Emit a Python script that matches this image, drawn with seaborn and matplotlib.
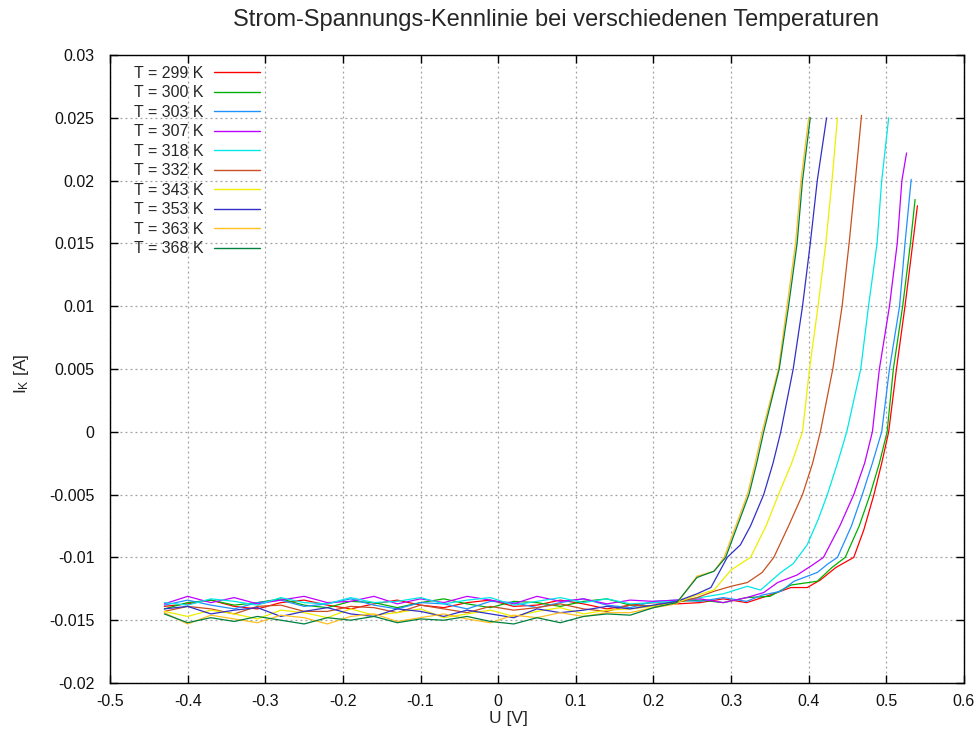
import numpy as np
import pandas as pd
import matplotlib
matplotlib.use("Agg")
import matplotlib.pyplot as plt
import seaborn as sns
from matplotlib.lines import Line2D
from matplotlib.ticker import FixedLocator, FuncFormatter

# ---- measured characteristics (U in V, I in mA) ----
temperatures = [299, 300, 303, 307, 318, 332, 343, 353, 363, 368]

# common voltage grid of the reverse / flat part
u_flat = [-0.43, -0.40, -0.37, -0.34, -0.31, -0.28, -0.25, -0.22, -0.19, -0.16,
          -0.13, -0.10, -0.07, -0.04, -0.01, 0.02, 0.05, 0.08, 0.11, 0.14,
          0.17, 0.20, 0.23]

i_flat_299 = [-13.9, -13.7, -13.4, -13.9, -14.1, -13.6, -13.4, -13.8, -14.1, -13.7, -13.4, -13.8,
              -14.0, -13.6, -13.4, -13.9, -13.8, -13.4, -13.7, -14.1, -13.8, -13.6, -13.7]
i_flat_300 = [-14.1, -13.6, -13.4, -13.8, -13.6, -13.3, -13.8, -14.0, -13.5, -13.6, -14.0, -13.6,
              -13.3, -13.7, -14.0, -13.5, -13.6, -13.9, -13.5, -13.3, -13.8, -13.9, -13.5]
i_flat_303 = [-13.8, -13.4, -13.8, -14.1, -13.6, -13.4, -13.9, -13.7, -13.3, -13.8, -14.1, -13.6,
              -13.7, -14.1, -13.5, -13.6, -14.0, -13.6, -13.3, -13.8, -14.0, -13.5, -13.4]
i_flat_307 = [-13.7, -13.1, -13.6, -13.2, -13.7, -13.4, -13.1, -13.6, -13.5, -13.1, -13.7, -13.3,
              -13.6, -13.1, -13.4, -13.7, -13.1, -13.5, -13.3, -13.7, -13.4, -13.5, -13.4]
i_flat_318 = [-13.6, -13.8, -13.3, -13.5, -13.8, -13.2, -13.6, -13.7, -13.2, -13.6, -13.5, -13.2,
              -13.7, -13.4, -13.2, -13.8, -13.5, -13.2, -13.6, -13.3, -13.7, -13.6, -13.5]
i_flat_332 = [-14.3, -13.9, -14.1, -14.5, -13.9, -13.8, -14.3, -14.3, -13.9, -14.0, -14.4, -13.8,
              -14.1, -14.4, -13.9, -14.2, -14.0, -13.7, -14.1, -14.3, -13.8, -13.9, -13.6]
i_flat_343 = [-14.3, -14.7, -14.2, -14.5, -14.9, -14.2, -14.4, -14.8, -14.1, -14.6, -14.4, -14.1,
              -14.8, -14.5, -14.2, -14.7, -14.3, -14.0, -14.5, -14.2, -14.1, -13.9, -13.6]
i_flat_353 = [-14.1, -13.9, -14.5, -14.2, -14.0, -14.7, -14.3, -14.0, -14.5, -14.7, -14.1, -14.3,
              -14.7, -14.2, -14.5, -14.8, -14.1, -14.4, -14.2, -13.9, -14.1, -13.8, -13.5]
i_flat_363 = [-14.4, -15.3, -14.6, -14.9, -15.2, -14.6, -14.8, -15.3, -14.7, -14.5, -15.1, -14.8,
              -14.5, -14.9, -15.2, -14.6, -14.8, -14.4, -14.7, -14.4, -14.4, -14.0, -13.7]
i_flat_368 = [-14.5, -15.2, -14.8, -15.1, -14.7, -15.0, -15.3, -14.8, -15.0, -14.7, -15.2, -14.9,
              -15.0, -14.7, -15.1, -15.3, -14.8, -15.2, -14.7, -14.5, -14.6, -14.0, -13.6]

# forward part (onset and steep rise), individual voltage points
u_rise_299 = [0.26, 0.29, 0.32, 0.35, 0.377, 0.398, 0.415, 0.435, 0.458, 0.471, 0.484, 0.494, 0.503, 0.513, 0.524, 0.534, 0.540]
i_rise_299 = [-13.6, -13.3, -13.6, -13.0, -12.4, -12.4, -11.8, -10.8, -10.0, -7.8, -5.0, -2.5, 0.0, 5.0, 10.0, 15.0, 18.0]
u_rise_300 = [0.26, 0.29, 0.32, 0.35, 0.377, 0.411, 0.430, 0.447, 0.465, 0.479, 0.491, 0.501, 0.509, 0.521, 0.531, 0.537]
i_rise_300 = [-13.4, -13.6, -13.2, -13.1, -12.2, -11.9, -10.8, -10.0, -7.5, -5.0, -2.5, 0.0, 5.0, 10.0, 15.0, 18.5]
u_rise_303 = [0.26, 0.29, 0.32, 0.34, 0.364, 0.381, 0.411, 0.425, 0.437, 0.455, 0.469, 0.482, 0.494, 0.504, 0.517, 0.524, 0.532]
i_rise_303 = [-13.5, -13.2, -13.5, -13.0, -12.7, -11.9, -11.2, -10.5, -10.0, -7.5, -5.0, -2.5, 0.0, 5.0, 10.0, 15.0, 20.1]
u_rise_307 = [0.26, 0.29, 0.32, 0.342, 0.360, 0.385, 0.405, 0.419, 0.440, 0.458, 0.472, 0.482, 0.491, 0.504, 0.514, 0.520, 0.526]
i_rise_307 = [-13.3, -13.6, -13.2, -12.8, -12.0, -11.4, -10.6, -10.0, -7.5, -5.0, -2.5, 0.0, 5.0, 10.0, 15.0, 20.0, 22.2]
u_rise_318 = [0.26, 0.29, 0.321, 0.338, 0.364, 0.380, 0.398, 0.412, 0.424, 0.437, 0.449, 0.467, 0.477, 0.488, 0.494, 0.503]
i_rise_318 = [-13.2, -12.9, -12.3, -12.6, -11.2, -10.5, -9.0, -7.0, -5.0, -2.5, 0.0, 5.0, 10.0, 15.0, 20.0, 25.0]
u_rise_332 = [0.256, 0.278, 0.300, 0.321, 0.340, 0.355, 0.374, 0.392, 0.405, 0.415, 0.431, 0.443, 0.452, 0.460, 0.468]
i_rise_332 = [-13.2, -12.7, -12.3, -12.0, -11.2, -10.0, -7.5, -5.0, -2.5, 0.0, 5.0, 10.0, 15.0, 20.0, 25.2]
u_rise_343 = [0.256, 0.278, 0.300, 0.325, 0.345, 0.361, 0.378, 0.392, 0.401, 0.412, 0.422, 0.430, 0.437]
i_rise_343 = [-13.0, -12.6, -11.0, -10.0, -7.5, -5.0, -2.5, 0.0, 5.0, 10.0, 15.0, 20.0, 25.0]
u_rise_353 = [0.256, 0.274, 0.295, 0.312, 0.325, 0.342, 0.354, 0.364, 0.380, 0.392, 0.402, 0.411, 0.423]
i_rise_353 = [-12.9, -12.4, -10.0, -9.0, -7.5, -5.0, -2.5, 0.0, 5.0, 10.0, 15.0, 20.0, 25.0]
u_rise_363 = [0.256, 0.278, 0.291, 0.306, 0.321, 0.331, 0.340, 0.361, 0.372, 0.383, 0.390, 0.400]
i_rise_363 = [-11.5, -11.1, -10.0, -7.5, -5.0, -2.5, 0.0, 5.0, 10.0, 15.0, 20.0, 25.0]
u_rise_368 = [0.256, 0.278, 0.293, 0.308, 0.323, 0.333, 0.342, 0.362, 0.374, 0.385, 0.392, 0.402]
i_rise_368 = [-11.6, -11.1, -10.0, -7.5, -5.0, -2.5, 0.0, 5.0, 10.0, 15.0, 20.0, 25.0]

x_ticks = [-0.5, -0.4, -0.3, -0.2, -0.1, 0.0, 0.1, 0.2, 0.3, 0.4, 0.5, 0.6]
y_ticks = [-0.02, -0.015, -0.01, -0.005, 0.0, 0.005, 0.01, 0.015, 0.02, 0.025, 0.03]

colors = ["#ff0000", "#00b000", "#2090ff", "#c000ff", "#00e8e8",
          "#c85020", "#eeee00", "#3030c8", "#ffc020", "#008040"]

flat = {299: i_flat_299, 300: i_flat_300, 303: i_flat_303, 307: i_flat_307, 318: i_flat_318,
        332: i_flat_332, 343: i_flat_343, 353: i_flat_353, 363: i_flat_363, 368: i_flat_368}
rise = {299: (u_rise_299, i_rise_299), 300: (u_rise_300, i_rise_300), 303: (u_rise_303, i_rise_303),
        307: (u_rise_307, i_rise_307), 318: (u_rise_318, i_rise_318), 332: (u_rise_332, i_rise_332),
        343: (u_rise_343, i_rise_343), 353: (u_rise_353, i_rise_353), 363: (u_rise_363, i_rise_363),
        368: (u_rise_368, i_rise_368)}

rows = []
for t in temperatures:
    label = f"T = {t} K"
    u_all = u_flat + rise[t][0]
    i_all = flat[t] + rise[t][1]
    for u, i in zip(u_all, i_all):
        rows.append({"U": u, "I": i * 1e-3, "T": label})
df = pd.DataFrame(rows)

labels = [f"T = {t} K" for t in temperatures]
palette = dict(zip(labels, colors))

sns.set_theme(style="white")
plt.rcParams["font.family"] = ["Liberation Sans", "DejaVu Sans"]
plt.rcParams["mathtext.fontset"] = "custom"
plt.rcParams["mathtext.rm"] = "Liberation Sans"
plt.rcParams["mathtext.it"] = "Liberation Sans:italic"

fig = plt.figure(figsize=(9.78, 7.39), dpi=100)
ax = fig.add_axes([110 / 978, 1 - 683 / 739, (964 - 110) / 978, (683 - 55) / 739])

# one polyline per temperature, drawn in measurement order
for lab in labels:
    sub = df[df["T"] == lab]
    sns.lineplot(x=sub["U"].to_numpy(), y=sub["I"].to_numpy(), sort=False,
                 estimator=None, color=palette[lab], lw=0.9, ax=ax)

ax.set_xlim(-0.5, 0.6)
ax.set_ylim(-0.02, 0.03)
ax.xaxis.set_major_locator(FixedLocator(x_ticks))
ax.yaxis.set_major_locator(FixedLocator(y_ticks))
fmt = FuncFormatter(lambda v, p: "0" if abs(v) < 1e-12 else f"{v:g}")
ax.xaxis.set_major_formatter(fmt)
ax.yaxis.set_major_formatter(fmt)

ax.grid(True, color="#a0a0a0", linestyle=(0, (1.5, 2.5)), linewidth=0.9)
for s in ax.spines.values():
    s.set_visible(True)
    s.set_color("black")
    s.set_linewidth(1.0)
ax.tick_params(direction="in", length=5.5, width=1.0, color="black",
               top=True, right=True, bottom=True, left=True, labelsize=11.5,
               labelcolor="#111111")
ax.tick_params(axis="y", pad=11)
ax.tick_params(axis="x", pad=8)

ax.set_xlabel("U [V]", fontsize=12.5)
ax.set_ylabel(r"I$_\mathrm{K}$ [A]", fontsize=12.5)
ax.xaxis.set_label_coords((508 - 110) / 854, (683 - 711) / 628)
ax.yaxis.set_label_coords((31 - 110) / 854, (683 - 374) / 628)

fig.text(556 / 978, 1 - 20 / 739, "Strom-Spannungs-Kennlinie bei verschiedenen Temperaturen",
         ha="center", va="center", fontsize=17)

handles = [Line2D([0], [0], color=palette[l], lw=1.0) for l in labels]
fig.legend(handles, labels, loc="upper left", bbox_to_anchor=(134 / 978, 1 - 66 / 739),
           frameon=False, markerfirst=False, fontsize=11.5, handlelength=2.9,
           handletextpad=0.65, labelspacing=0.28, borderpad=0, borderaxespad=0)

fig.savefig("out.png", dpi=100)
